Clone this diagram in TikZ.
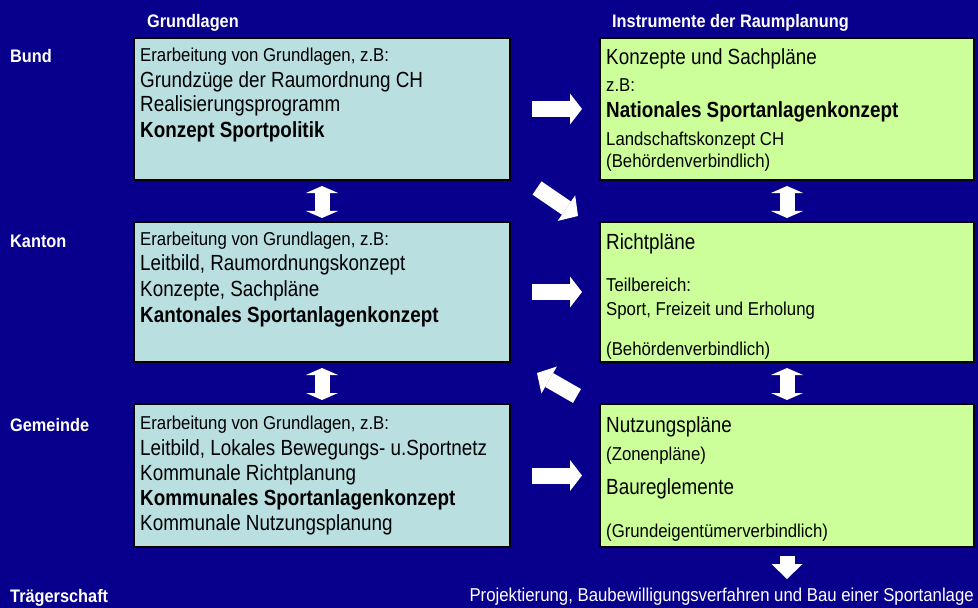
\documentclass[tikz,border=0pt]{standalone}
\usepackage{fontspec}
\setmainfont{Liberation Sans}[FakeStretch=0.9]
\newfontfamily\bigfam{Liberation Sans}[FakeStretch=0.86]
\usetikzlibrary{arrows.meta,calc}
\definecolor{bgnavy}{RGB}{8,0,140}
\definecolor{gfill}{RGB}{186,223,225}
\definecolor{ifill}{RGB}{204,255,153}
\tikzset{
  gbox/.style={draw=black, line width=1.5bp, fill=gfill, minimum width=376bp, outer sep=0pt},
  ibox/.style={draw=black, line width=1.5bp, fill=ifill, minimum width=374bp, outer sep=0pt},
  big/.style={font=\bigfam\fontsize{22}{26}\selectfont, inner sep=0pt, anchor=base west},
  bigbf/.style={big, font=\bigfam\fontsize{22}{26}\selectfont\bfseries},
  small/.style={font=\fontsize{18.7}{22}\selectfont, inner sep=0pt, anchor=base west},
  head/.style={font=\fontsize{18.2}{22}\selectfont\bfseries, text=white, inner sep=0pt, anchor=base west},
  rarrow/.style={white, line width=16bp, -{Triangle[length=12bp, width=31bp, line width=0pt]}},
  diagarrow/.style={white, line width=16bp, -{Triangle[length=14bp, width=31bp, line width=0pt]}},
  varrow/.style={white, line width=15bp,
    {Triangle[length=7bp, width=32bp, line width=0pt]}-{Triangle[length=7bp, width=32bp, line width=0pt]}},
  downarrow/.style={white, line width=15bp, -{Triangle[length=15bp, width=31bp, line width=0pt]}},
}

\begin{document}
\begin{tikzpicture}[x=1bp, y=-1bp]

% background
\fill[bgnavy] (0,0) rectangle (978,608);

%% column headings
\node[head] (hGrund) at (147,28) {Grundlagen};
\node[head] (hInstr) at (612,28) {Instrumente der Raumplanung};

%% levels
\node[head] (lBund) at (10,63) {Bund};
\node[head] (lKanton) at (10,248) {Kanton};
\node[head] (lGemeinde) at (10,431) {Gemeinde};
\node[head] (lTraeger) at (10,602) {Trägerschaft};

%% Grundlagen boxes
\node[gbox, minimum height=142bp] (gBund) at (322,109) {};
\node[gbox, minimum height=140bp] (gKanton) at (322,292) {};
\node[gbox, minimum height=143bp] (gGemeinde) at (322,475.5) {};

%% Instrumente boxes
\node[ibox, minimum height=142bp] (iBund) at (787,109) {};
\node[ibox, minimum height=140bp] (iKanton) at (787,292) {};
\node[ibox, minimum height=143bp] (iGemeinde) at (787,475.5) {};

% Bund, Grundlagen
\node[small] (gBund1) at ($(gBund.north west)+(6,24)$) {Erarbeitung von Grundlagen, z.B:};
\node[big] (gBund2) at ($(gBund.north west)+(6,50)$) {Grundzüge der Raumordnung CH};
\node[big] (gBund3) at ($(gBund.north west)+(6,74)$) {Realisierungsprogramm};
\node[bigbf] (gBund4) at ($(gBund.north west)+(6,100)$) {Konzept Sportpolitik};

% Kanton, Grundlagen
\node[small] (gKanton1) at ($(gKanton.north west)+(6,24)$) {Erarbeitung von Grundlagen, z.B:};
\node[big] (gKanton2) at ($(gKanton.north west)+(6,49)$) {Leitbild, Raumordnungskonzept};
\node[big] (gKanton3) at ($(gKanton.north west)+(6,74)$) {Konzepte, Sachpläne};
\node[bigbf] (gKanton4) at ($(gKanton.north west)+(6,100)$) {Kantonales Sportanlagenkonzept};

% Gemeinde, Grundlagen
\node[small] (gGemeinde1) at ($(gGemeinde.north west)+(6,25)$) {Erarbeitung von Grundlagen, z.B:};
\node[big] (gGemeinde2) at ($(gGemeinde.north west)+(6,51)$) {Leitbild, Lokales Bewegungs- u.Sportnetz};
\node[big] (gGemeinde3) at ($(gGemeinde.north west)+(6,76)$) {Kommunale Richtplanung};
\node[bigbf] (gGemeinde4) at ($(gGemeinde.north west)+(6,101)$) {Kommunales Sportanlagenkonzept};
\node[big] (gGemeinde5) at ($(gGemeinde.north west)+(6,126)$) {Kommunale Nutzungsplanung};

% Bund, Instrumente
\node[big] (iBund1) at ($(iBund.north west)+(6,27)$) {Konzepte und Sachpläne};
\node[small] (iBund2) at ($(iBund.north west)+(6,54)$) {z.B:};
\node[bigbf] (iBund3) at ($(iBund.north west)+(6,80)$) {Nationales Sportanlagenkonzept};
\node[small] (iBund4) at ($(iBund.north west)+(6,108)$) {Landschaftskonzept CH};
\node[small] (iBund5) at ($(iBund.north west)+(6,130)$) {(Behördenverbindlich)};

% Kanton, Instrumente
\node[big] (iKanton1) at ($(iKanton.north west)+(6,28)$) {Richtpläne};
\node[small] (iKanton2) at ($(iKanton.north west)+(6,70)$) {Teilbereich:};
\node[small] (iKanton3) at ($(iKanton.north west)+(6,93)$) {Sport, Freizeit und Erholung};
\node[small] (iKanton4) at ($(iKanton.north west)+(6,133)$) {(Behördenverbindlich)};

% Gemeinde, Instrumente
\node[big] (iGemeinde1) at ($(iGemeinde.north west)+(6,28)$) {Nutzungspläne};
\node[small] (iGemeinde2) at ($(iGemeinde.north west)+(6,56)$) {(Zonenpläne)};
\node[big] (iGemeinde3) at ($(iGemeinde.north west)+(6,90)$) {Baureglemente};
\node[small] (iGemeinde4) at ($(iGemeinde.north west)+(6,133)$) {(Grundeigentümerverbindlich)};

%% bottom line
\node[small, anchor=base east, text=white] (tBau) at (974,601)
  {Projektierung, Baubewilligungsverfahren und Bau einer Sportanlage};
\coordinate (bau) at (787,579);

%% arrows Grundlagen -> Instrumente
\draw[rarrow, shorten <=22bp, shorten >=18bp] (gBund) -- (iBund);
\draw[rarrow, shorten <=22bp, shorten >=18bp] (gKanton) -- (iKanton);
\draw[rarrow, shorten <=22bp, shorten >=18bp] (gGemeinde.east) -- (iGemeinde.west);

%% arrows between levels
\draw[varrow, shorten <=6bp, shorten >=4bp] (gBund) -- (gKanton);
\draw[varrow, shorten <=6bp, shorten >=4bp] (gKanton) -- (gGemeinde);
\draw[varrow, shorten <=6bp, shorten >=4bp] (iBund) -- (iKanton);
\draw[varrow, shorten <=6bp, shorten >=4bp] (iKanton) -- (iGemeinde);

%% diagonal arrows
\draw[diagarrow] ($(gBund.south east)+(27,8)$) -- ($(iKanton.north west)+(-22,-6)$);
\draw[diagarrow] ($(iGemeinde.north west)+(-23,-8)$) -- ($(gKanton.south east)+(27,11)$);

%% to the Trägerschaft
\draw[downarrow, shorten <=9bp] (iGemeinde.south) -- (bau);

\end{tikzpicture}
\end{document}
